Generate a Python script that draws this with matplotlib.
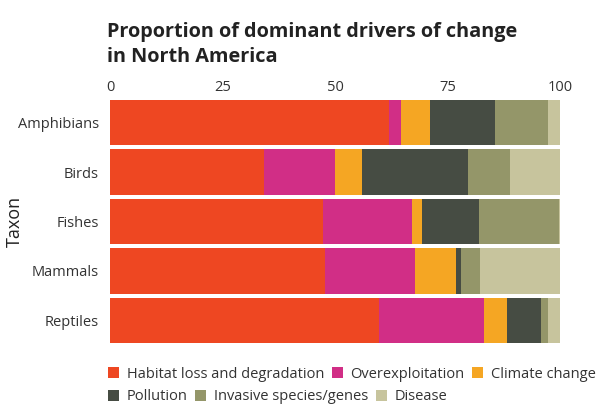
import matplotlib
matplotlib.use("Agg")
import matplotlib.pyplot as plt
from matplotlib.patches import Patch
import numpy as np

taxa = ["Amphibians", "Birds", "Fishes", "Mammals", "Reptiles"]
drivers = ["Habitat loss and degradation", "Overexploitation", "Climate change",
           "Pollution", "Invasive species/genes", "Disease"]
habitat = [62.0, 34.2, 47.3, 47.8, 59.8]
overexploitation = [2.7, 15.8, 19.8, 20.0, 23.3]
climate = [6.4, 6.0, 2.2, 9.1, 5.1]
pollution = [14.5, 23.6, 12.7, 1.1, 7.6]
invasive = [11.7, 9.3, 17.8, 4.2, 1.5]
disease = [2.7, 11.1, 0.2, 17.8, 2.7]
xticks = [0, 25, 50, 75, 100]
colors = ["#EE4722", "#D12E86", "#F5A623", "#464C43", "#949669", "#C7C49D"]

plt.rcParams['font.family'] = ['Open Sans', 'DejaVu Sans']
fig = plt.figure(figsize=(6.08, 4.05), dpi=100)
ax = fig.add_axes([110/608, 1-345.25/405, 450/608, 247.5/405])

series = [habitat, overexploitation, climate, pollution, invasive, disease]
y = np.arange(len(taxa))
left = np.zeros(len(taxa))
for vals, c, name in zip(series, colors, drivers):
    ax.barh(y, vals, left=left, height=0.91, color=c, label=name, linewidth=0)
    left += np.array(vals)

ax.set_xlim(0, 100)
ax.set_ylim(len(taxa) - 0.5, -0.5)
ax.set_yticks(y)
ax.set_yticklabels(taxa, fontsize=10.5, color="#333333")
ax.set_xticks(xticks)
ax.set_xticklabels([str(t) for t in xticks], fontsize=10.5, color="#333333")
ax.xaxis.tick_top()
ax.tick_params(axis="both", length=0)
ax.tick_params(axis="x", pad=2)
ax.tick_params(axis="y", pad=8)
for s in ax.spines.values():
    s.set_visible(False)
ax.set_ylabel("Taxon", fontsize=13, color="#222222")
ax.yaxis.set_label_coords((24 - 110) / 450, 0.5)

fig.text(107/608, 1-62/405, "Proportion of dominant drivers of change\nin North America",
         fontsize=14.3, fontweight="bold", color="#222222", va="baseline", ha="left",
         linespacing=1.35)

handles = [Patch(facecolor=c, edgecolor="none") for c in colors]
kw = dict(loc="center left", ncol=3, frameon=False, fontsize=10.5, handlelength=0.75,
          handleheight=0.75, handletextpad=0.55, columnspacing=0.5, labelcolor="#333333",
          borderaxespad=0, borderpad=0)
fig.legend(handles[:3], drivers[:3], bbox_to_anchor=(108/608, 1-374/405), **kw)
fig.legend(handles[3:], drivers[3:], bbox_to_anchor=(108/608, 1-397/405), **kw)

fig.savefig("out.png", dpi=100)
